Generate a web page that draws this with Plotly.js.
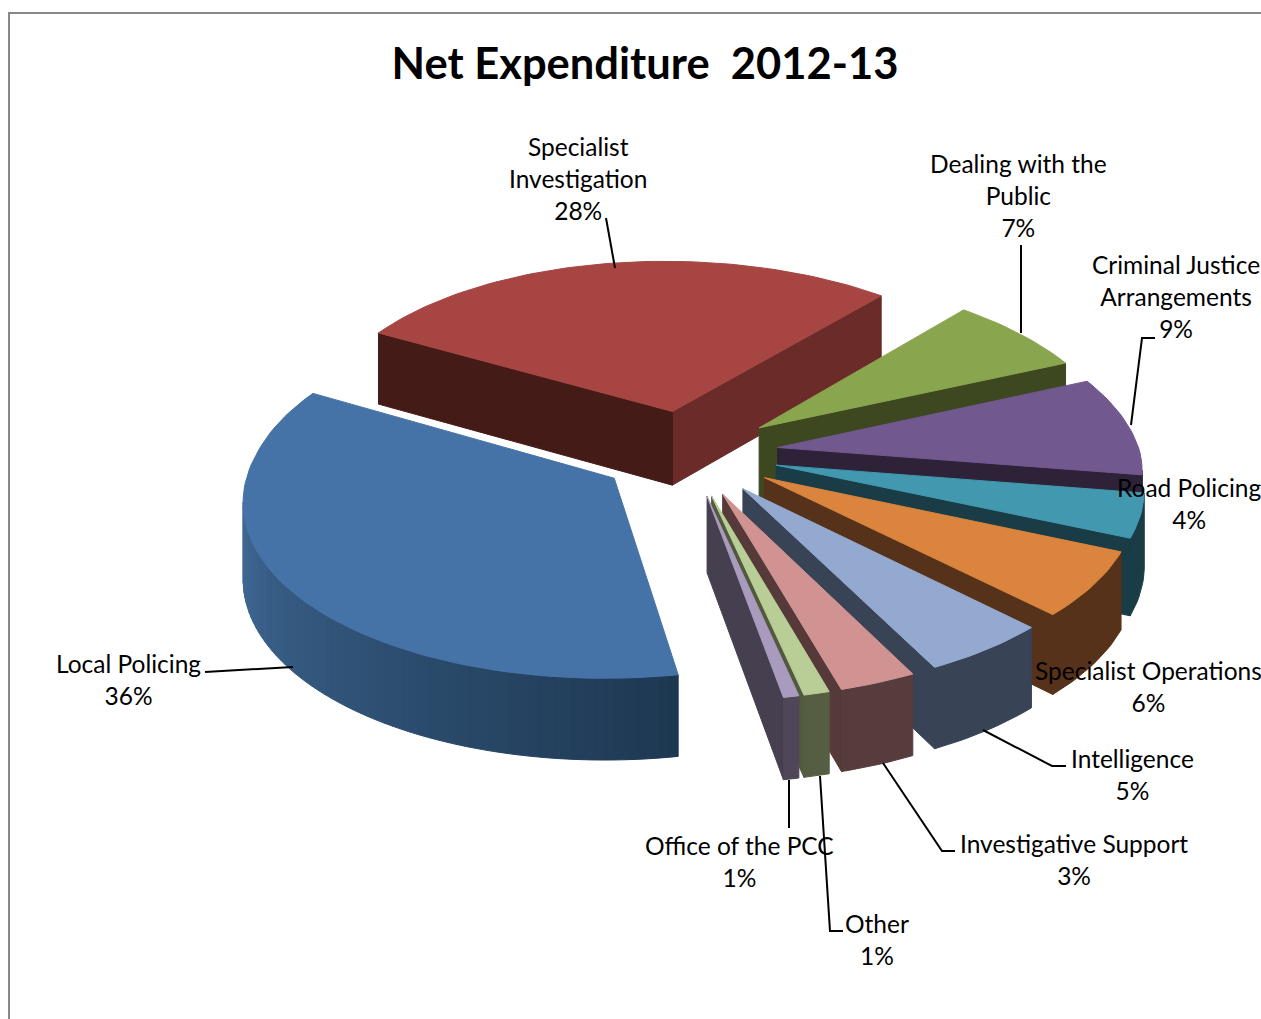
<!DOCTYPE html>
<html>
<head>
<meta charset="utf-8">
<script src="https://cdn.plot.ly/plotly-3.0.1.min.js"></script>
<style>html,body{margin:0;padding:0;background:#fff;overflow:hidden}#chart{width:1261px;height:1019px}</style>
</head>
<body>
<div id="chart"></div>
<script>
// ---- data ----
const categories = ["Local Policing","Specialist Investigation","Dealing with the Public","Criminal Justice Arrangements","Road Policing","Specialist Operations","Intelligence","Investigative Support","Other","Office of the PCC"];
const labelLines = ["Local Policing","Specialist<br>Investigation","Dealing with the<br>Public","Criminal Justice<br>Arrangements","Road Policing","Specialist Operations","Intelligence","Investigative Support","Other","Office of the PCC"];
const values = [36,28,7,9,4,6,5,3,1,0.6];
const topColors = ["#4572A7","#A74542","#89A54E","#71588F","#4198AF","#DB843D","#93A9CF","#D19392","#B9CD96","#A99BBD"];
const wallColors = ["#1E3852","#6B2B29","#3D4720","#2D2238","#193C47","#57321A","#384355","#563A3A","#52593F","#453F4F"];
const startWallColors = ["#1E3852","#451B18","#3D4720","#2D2238","#193C47","#57321A","#384355","#563A3A","#52593F","#453F4F"];
const rimColors = ["#1E3852","#6B2B29","#3D4720","#2D2238","#193C47","#57321A","#384355","#573C3D","#555E42","#4F4658"];
const labelCenterX = [128,578,1018,1176,1189,1148,1132,1074,877,739];
const labelCenterY = [679,178,195,296,503,686,774,859,939,861];

// ---- pie geometry (3D look projected by hand onto hidden axes) ----
const firstAngle = 169.8, cx = 689, cy = 453, R = 362, explode = 90, H = 75;
const DX = 3300, DY = 3500, SY = 0.48, farSkew = 0.025;
const rad = d => d * Math.PI / 180;
function proj(X, Y, Z) {           // Y > 0 is toward the viewer, Z is depth below the top face
  const px = DX / (DX - Y), py = DY / (DY - Y);
  return [cx + X * px + (Y < 0 ? farSkew * Y : 0), cy + Y * SY * py + Z * (5000 / (5000 - Y))];
}
const total = values.reduce((a, b) => a + b, 0);
function hex(c){return [1,3,5].map(i=>parseInt(c.substr(i,2),16));}
function mix(a,b,t){const A=hex(a),B=hex(b);return 'rgb('+A.map((v,i)=>Math.round(v+(B[i]-v)*t)).join(',')+')';}

function poly(pts, color) {
  return {type:'scatter', mode:'lines', x:pts.map(p=>p[0]).concat(pts[0][0]), y:pts.map(p=>p[1]).concat(pts[0][1]),
    fill:'toself', fillcolor:color, line:{color:color,width:1}, hoverinfo:'skip', showlegend:false};
}
function cross(a,b,c){return (b[0]-a[0])*(c[1]-b[1])-(b[1]-a[1])*(c[0]-b[0]);}

let cum = 0;
const slices = values.map((v,i)=>{
  const a0 = firstAngle + cum / total * 360; cum += v;
  const a1 = firstAngle + cum / total * 360;
  const mid = rad((a0+a1)/2);
  const ox = explode*Math.sin(mid), oy = -explode*Math.cos(mid);
  return {i,a0,a1,ox,oy};
});
const order = slices.slice().sort((s,t)=>s.oy-t.oy);
const traces = [];
order.forEach(s=>{
  const rimG = [], n = Math.max(4, Math.ceil((s.a1-s.a0)/1.5));
  for(let k=0;k<=n;k++){
    const t = rad(s.a0+(s.a1-s.a0)*k/n);
    rimG.push([s.ox+R*Math.sin(t), s.oy-R*Math.cos(t), s.a0+(s.a1-s.a0)*k/n]);
  }
  const top = g=>proj(g[0],g[1],0), bot = g=>proj(g[0],g[1],H);
  const ap=[s.ox,s.oy];
  const first=rimG[0], last=rimG[n];
  // radial walls
  if(cross(top(ap),top(last),bot(last))>0)
    traces.push(poly([top(ap),top(last),bot(last),bot(ap)],wallColors[s.i]));
  if(cross(top(ap),top(first),bot(first))<0)
    traces.push(poly([top(ap),top(first),bot(first),bot(ap)],startWallColors[s.i]));
  // outer rim: gradient strips on the big slice, one flat band on the others
  const vis = [];
  for(let k=0;k<n;k++){ if(top(rimG[k+1])[0]<top(rimG[k])[0]) vis.push(k); }
  if(s.i===0){
    vis.forEach(k=>{
      const a=rimG[k], b=rimG[k+1];
      const c = mix("#1E3852","#44709F",Math.min(1,(a[2]-firstAngle)/105));
      traces.push(poly([top(a),top(b),bot(b),bot(a)],c));
    });
  } else if(vis.length){
    const pts = vis.map(k=>rimG[k]).concat([rimG[vis[vis.length-1]+1]]);
    traces.push(poly(pts.map(top).concat(pts.slice().reverse().map(bot)),rimColors[s.i]));
  }
  traces.push(poly([top(ap)].concat(rimG.map(top)),topColors[s.i]));
});

// ---- labels and leader lines ----
const annotations = categories.map((c,i)=>({
  x:labelCenterX[i], y:labelCenterY[i], xref:'x', yref:'y', xanchor:'center', yanchor:'middle', align:'center',
  showarrow:false, text:labelLines[i]+'<br>'+Math.round(values[i])+'%', font:{family:'Lato, Carlito, sans-serif',size:24.5,color:'#000'}
}));
const leaders = [
  [[205,672],[293,667]],
  [[606,218],[615,268]],
  [[1021,245],[1021,333]],
  [[1155,338],[1142,338],[1131,425]],
  [[1066,766],[1052,766],[983,730]],
  [[955,851],[942,851],[883,763]],
  [[843,931],[830,931],[820,776]],
  [[789,828],[789,780]]
];
const shapes = leaders.map(l=>({type:'path',xref:'x',yref:'y',layer:'above',
  path:'M'+l.map(p=>p[0]+','+p[1]).join('L'),line:{color:'#000',width:2}}));
shapes.push({type:'path',xref:'x',yref:'y',layer:'above',path:'M9,1019L9,13L1261,13',line:{color:'#888',width:2}});

Plotly.newPlot('chart',traces,{
  width:1261,height:1019,margin:{l:0,r:0,t:0,b:0},
  paper_bgcolor:'#fff',plot_bgcolor:'#fff',showlegend:false,
  title:{text:'Net Expenditure\u00A0\u00A02012-13',x:645/1261,xanchor:'center',y:1-64/1019,yanchor:'middle',
    font:{family:'Lato, Carlito, sans-serif',size:43.5,color:'#000',weight:700}},
  xaxis:{range:[0,1261],visible:false,fixedrange:true},
  yaxis:{range:[1019,0],visible:false,fixedrange:true},
  annotations,shapes
},{displayModeBar:false,staticPlot:true});
</script>
</body>
</html>
